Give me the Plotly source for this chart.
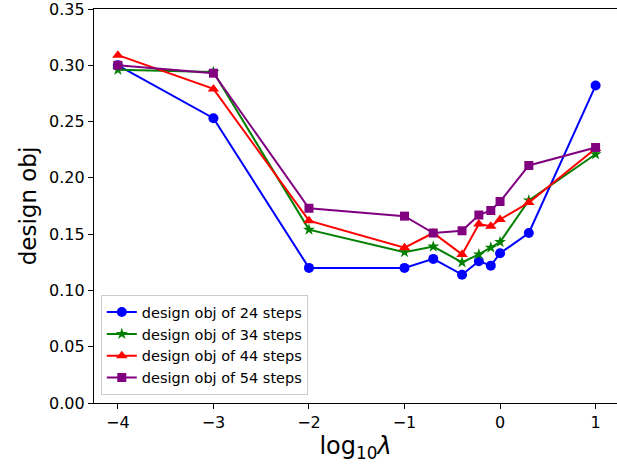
import numpy as np
import plotly.graph_objects as go

# regularisation strengths (log10 lambda)
lambdas = [1e-4, 1e-3, 1e-2, 0.1, 0.2, 0.4, 0.6, 0.8, 1.0, 2.0, 10.0]
log_lambda = list(np.log10(lambdas))

obj_24 = [0.300, 0.253, 0.120, 0.120, 0.128, 0.114, 0.126, 0.122, 0.133, 0.151, 0.282]
obj_34 = [0.296, 0.294, 0.154, 0.134, 0.139, 0.125, 0.132, 0.138, 0.143, 0.180, 0.221]
obj_44 = [0.309, 0.279, 0.162, 0.138, 0.151, 0.132, 0.159, 0.157, 0.163, 0.178, 0.226]
obj_54 = [0.300, 0.293, 0.173, 0.166, 0.151, 0.153, 0.167, 0.171, 0.179, 0.211, 0.227]

series = [
    ("design obj of 24 steps", obj_24, "blue", "circle", 10),
    ("design obj of 34 steps", obj_34, "green", "star", 9),
    ("design obj of 44 steps", obj_44, "red", "triangle-up", 10),
    ("design obj of 54 steps", obj_54, "purple", "square", 9),
]

fig = go.Figure()
for name, vals, color, symbol, msize in series:
    fig.add_trace(go.Scatter(
        x=log_lambda, y=vals, name=name, mode="lines+markers",
        line=dict(color=color, width=2),
        marker=dict(symbol=symbol, size=msize, color=color, line=dict(width=0)),
    ))

font_family = "DejaVu Sans"
fig.update_layout(
    width=617, height=467,
    margin=dict(l=94, r=0, t=7, b=64),
    paper_bgcolor="white", plot_bgcolor="white",
    font=dict(family=font_family, color="black", size=16),
    showlegend=True,
    legend=dict(
        x=0.013, y=0.02, xanchor="left", yanchor="bottom",
        bgcolor="rgba(255,255,255,0.8)", bordercolor="#cccccc", borderwidth=1,
        font=dict(size=14.5, family=font_family), tracegroupgap=0,
        itemwidth=30,
    ),
    xaxis=dict(
        range=[-4.25, 1.224], tickmode="array",
        tickvals=[-4, -3, -2, -1, 0, 1],
        ticktext=["\u22124", "\u22123", "\u22122", "\u22121", "0", "1"],
        showgrid=False, zeroline=False,
        showline=True, linecolor="black", linewidth=1.2, mirror=True,
        ticks="outside", ticklen=5, tickwidth=1, tickcolor="black",
        tickfont=dict(size=16), ticklabeloverflow="allow",
        title=dict(text="log<sub>10</sub><i>λ</i>", font=dict(size=24), standoff=4),
    ),
    yaxis=dict(
        range=[0, 0.35], tickmode="array",
        tickvals=[0, 0.05, 0.10, 0.15, 0.20, 0.25, 0.30, 0.35],
        ticktext=["0.00", "0.05", "0.10", "0.15", "0.20", "0.25", "0.30", "0.35"],
        showgrid=False, zeroline=False,
        showline=True, linecolor="black", linewidth=1.2, mirror=False,
        ticks="outside", ticklen=5, tickwidth=1, tickcolor="black",
        tickfont=dict(size=16), ticklabeloverflow="allow",
        title=dict(text="design obj", font=dict(size=23), standoff=6),
    ),
)

fig.write_html("out.html")
